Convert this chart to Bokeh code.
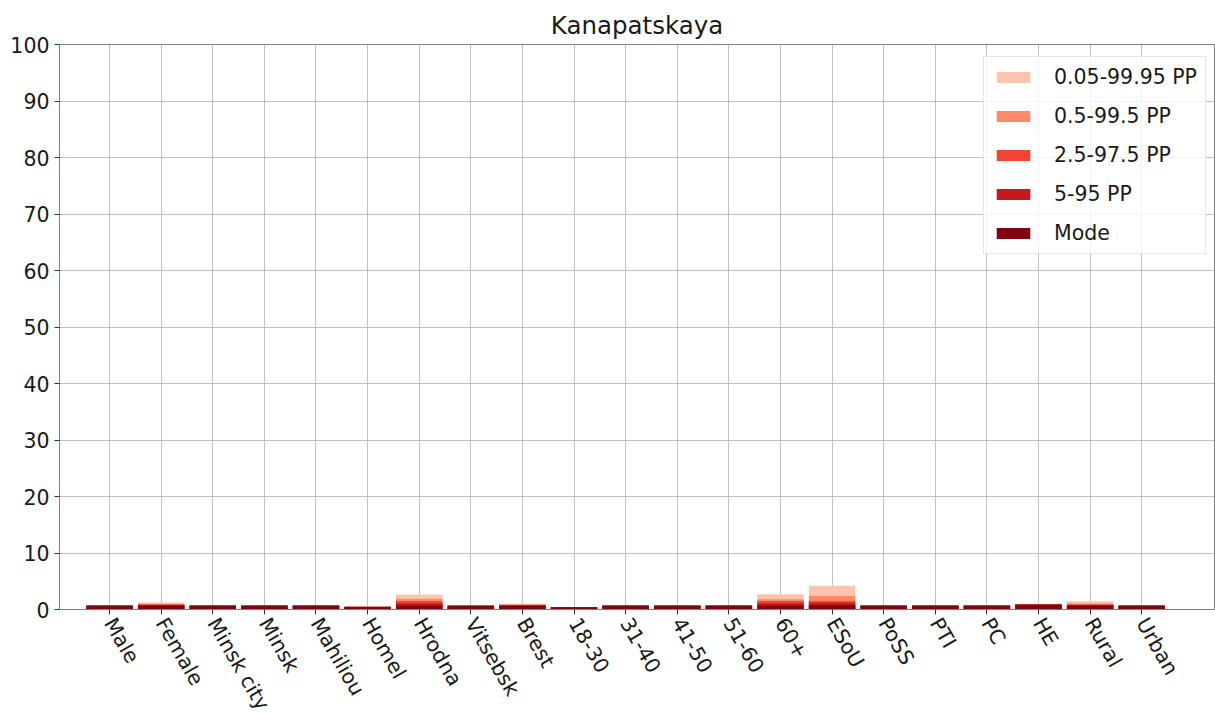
from bokeh.plotting import figure
from bokeh.models import FixedTicker, Legend, LegendItem, ColumnDataSource, Range1d
from bokeh.embed import file_html
from bokeh.resources import INLINE

categories = ["Male", "Female", "Minsk city", "Minsk", "Mahiliou", "Homel", "Hrodna",
              "Vitsebsk", "Brest", "18-30", "31-40", "41-50", "51-60", "60+", "ESoU",
              "PoSS", "PTI", "PC", "HE", "Rural", "Urban"]

# upper bounds of each interval (lower bounds ~0)
pp_0_05 = [0.7, 1.25, 0.7, 0.7, 0.7, 0.5, 2.65, 0.8, 1.05, 0.45, 0.7, 0.7, 0.7, 2.7, 4.2,
           0.7, 0.7, 0.7, 1.0, 1.45, 0.7]
pp_0_5 = [0.7, 1.0, 0.7, 0.7, 0.7, 0.5, 1.9, 0.75, 0.9, 0.45, 0.7, 0.7, 0.7, 1.8, 2.4,
          0.7, 0.7, 0.7, 0.95, 1.05, 0.7]
pp_2_5 = [0.7, 0.9, 0.7, 0.7, 0.7, 0.5, 1.5, 0.7, 0.8, 0.45, 0.7, 0.7, 0.7, 1.5, 1.5,
          0.7, 0.7, 0.7, 0.95, 0.9, 0.7]
pp_5 = [0.7, 0.8, 0.7, 0.7, 0.7, 0.5, 1.1, 0.7, 0.75, 0.45, 0.7, 0.7, 0.7, 1.1, 1.2,
        0.7, 0.7, 0.7, 0.9, 0.8, 0.7]
mode = [0.65, 0.7, 0.65, 0.65, 0.65, 0.45, 0.7, 0.6, 0.65, 0.4, 0.65, 0.65, 0.65, 0.7, 0.8,
        0.65, 0.65, 0.65, 0.85, 0.7, 0.65]

series = [("0.05-99.95 PP", pp_0_05, "#fcc5b0"),
          ("0.5-99.5 PP", pp_0_5, "#fc8a6a"),
          ("2.5-97.5 PP", pp_2_5, "#f14432"),
          ("5-95 PP", pp_5, "#c9181d"),
          ("Mode", mode, "#7f0610")]

idx = list(range(len(categories)))

p = figure(output_backend="svg", toolbar_location=None,
           x_range=Range1d(-0.97, 21.41), y_range=Range1d(0, 100),
           frame_width=1155, frame_height=565, min_border_left=59, min_border_right=1,
           min_border_top=44, min_border_bottom=100, title="Kanapatskaya")

items = []
for name, vals, col in series:
    src = ColumnDataSource(dict(x=idx, top=vals, bottom=[0] * len(vals)))
    r = p.vbar(x="x", top="top", bottom="bottom", width=0.9, source=src,
               fill_color=col, line_color=None)
    items.append(LegendItem(label=name, renderers=[r]))

legend = Legend(items=items, location=(924, 355))
legend.label_text_font = "DejaVu Sans"
legend.label_text_font_size = "20.5px"
legend.label_text_color = "#1a1a1a"
legend.glyph_width = 42
legend.glyph_height = 14
legend.label_standoff = 20
legend.spacing = 15
legend.padding = 8
legend.margin = 0
legend.border_line_color = "#d0d0d0"
legend.background_fill_alpha = 0.8
p.add_layout(legend)

p.title.text_font = "DejaVu Sans"
p.title.text_font_size = "24.5px"
p.title.text_font_style = "normal"
p.title.align = "center"
p.title.text_color = "#1a1a1a"

p.xaxis.ticker = FixedTicker(ticks=idx)
p.xaxis.major_label_overrides = {i: c for i, c in enumerate(categories)}
p.xaxis.major_label_orientation = -1.047
p.yaxis.ticker = FixedTicker(ticks=list(range(0, 101, 10)))

for ax in (p.xaxis, p.yaxis):
    ax.major_label_text_font = "DejaVu Sans"
    ax.major_label_text_font_size = "20.5px"
    ax.major_label_text_color = "#1a1a1a"
    ax.axis_line_color = "#808080"
    ax.major_tick_line_color = "#333333"
    ax.major_tick_out = 5
    ax.major_tick_in = 0
    ax.minor_tick_line_color = None

p.xgrid.grid_line_color = "#b0b0b0"
p.ygrid.grid_line_color = "#b0b0b0"
p.xgrid.grid_line_width = 0.8
p.ygrid.grid_line_width = 0.8
p.outline_line_color = "#808080"
p.background_fill_color = "white"

open("out.html", "w").write(file_html(p, INLINE))
